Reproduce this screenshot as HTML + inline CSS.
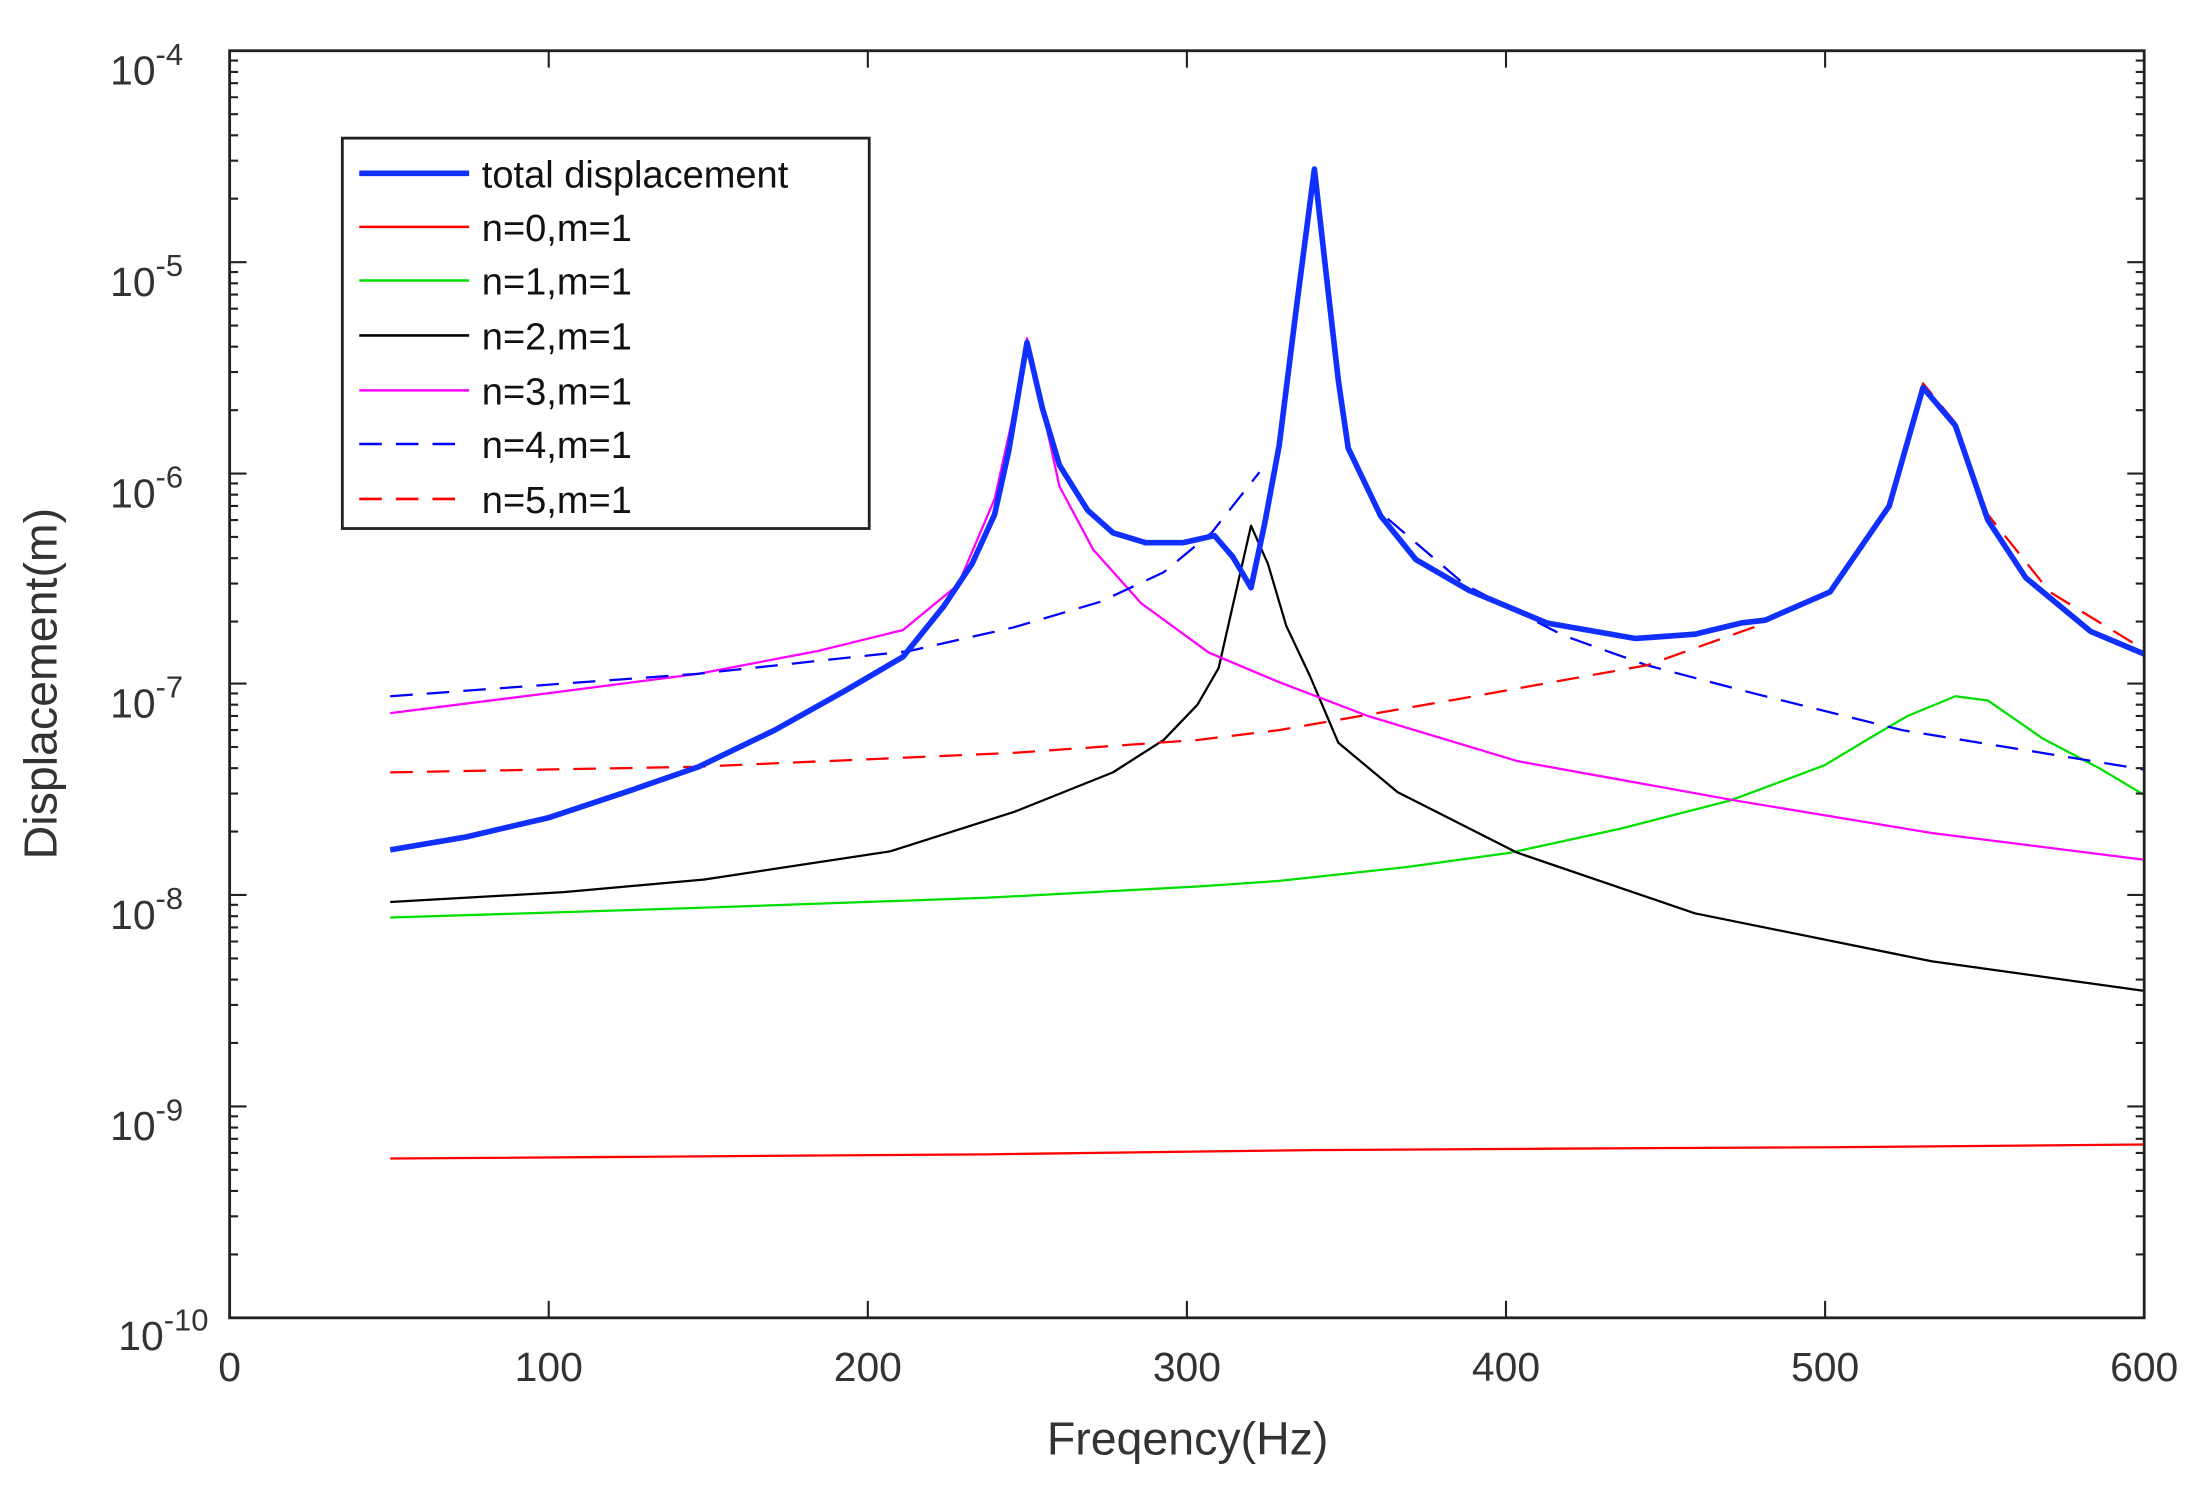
<!DOCTYPE html>
<html><head><style>body{margin:0;background:#fff}svg{display:block}</style></head><body>
<svg width="2209" height="1494" viewBox="0 0 1568 1060" preserveAspectRatio="none" xmlns="http://www.w3.org/2000/svg" font-family="Liberation Sans, sans-serif">
<rect width="1568" height="1060" fill="#fff"/>
<g fill="none" stroke-linejoin="round">
<polyline stroke="#ff0000" stroke-width="1.6" points="277,822 700,819 930,816 1100,815 1300,814 1522,812"/>
<polyline stroke="#00e000" stroke-width="1.6" points="277,651 500,644 700,637 850,629 908,625 1000,615 1072,605 1150,588 1228,568 1295,543 1330,522 1354,508 1388,494 1411,497 1450,524 1490,545 1522,564"/>
<polyline stroke="#000" stroke-width="1.6" points="277,640 400,633 500,624 632,604 720,576 790,548 826,525 850,500 865,474 875,430 888,373 900,400 913,444 930,480 950,527 992,562 1077,605 1203,648 1371,682 1522,703"/>
<polyline stroke="#ff00ff" stroke-width="1.6" points="277,506 380,493 496,478 580,462 641,447 680,415 706,354 718,300 729,240 740,290 752,345 776,390 810,428 858,463 908,484 971,508 1077,540 1232,568 1371,591 1522,610"/>
<polyline stroke="#0000ff" stroke-width="1.6" stroke-dasharray="16,10" points="277,494 496,478 645,462 720,445 781,427 826,406 860,378 894,335"/>
<polyline stroke="#0000ff" stroke-width="1.6" stroke-dasharray="16,10" points="985,368 1040,415 1110,451 1169,472 1245,492 1350,518 1522,546"/>
<polyline stroke="#ff0000" stroke-width="1.6" stroke-dasharray="16,10" points="277,548 496,544 722,534 850,525 908,518 1035,496 1169,472 1245,445 1299,420 1341,359 1365,272 1388,300 1411,365 1455,420 1522,461"/>
<polyline stroke="#1030ff" stroke-width="4" points="277,603 330,594 390,580 450,560 496,544 550,518 600,490 641,466 670,430 690,400 706,365 716,320 729,243 740,290 752,330 772,362 790,378 813,385 840,385 862,380 875,395 888,417 898,370 908,316 920,220 933,120 942,200 950,270 957,318 980,366 1005,397 1043,419 1098,442 1161,453 1203,450 1236,442 1253,440 1299,420 1341,359 1365,275 1388,302 1411,369 1438,410 1484,448 1522,464"/>
</g>
<rect x="163" y="36" width="1359" height="899" fill="none" stroke="#222" stroke-width="2"/>
<g stroke="#222" stroke-width="1.5">
<path d="M389.5,935v-12 M616,935v-12 M842.5,935v-12 M1069,935v-12 M1295.5,935v-12 M389.5,36v12 M616,36v12 M842.5,36v12 M1069,36v12 M1295.5,36v12
M163,186h12 M163,336h12 M163,485h12 M163,635h12 M163,785h12 M1522,186h-12 M1522,336h-12 M1522,485h-12 M1522,635h-12 M1522,785h-12"/>
<path id="minor" d="M163,141h6M163,114h6M163,96h6M163,81h6M163,69h6M163,59h6M163,51h6M163,43h6"/>
<use href="#minor" y="150"/><use href="#minor" y="300"/><use href="#minor" y="449"/><use href="#minor" y="599"/><use href="#minor" y="749"/>
<use href="#minor" transform="translate(1685,0) scale(-1,1)"/><use href="#minor" transform="translate(1685,150) scale(-1,1)"/><use href="#minor" transform="translate(1685,300) scale(-1,1)"/><use href="#minor" transform="translate(1685,449) scale(-1,1)"/><use href="#minor" transform="translate(1685,599) scale(-1,1)"/><use href="#minor" transform="translate(1685,749) scale(-1,1)"/>
</g>
<g font-size="29" fill="#333" text-anchor="end">
<text x="130" y="60">10<tspan dy="-14" font-size="22">-4</tspan></text>
<text x="130" y="210">10<tspan dy="-14" font-size="22">-5</tspan></text>
<text x="130" y="360">10<tspan dy="-14" font-size="22">-6</tspan></text>
<text x="130" y="509">10<tspan dy="-14" font-size="22">-7</tspan></text>
<text x="130" y="659">10<tspan dy="-14" font-size="22">-8</tspan></text>
<text x="130" y="809">10<tspan dy="-14" font-size="22">-9</tspan></text>
<text x="148" y="958">10<tspan dy="-14" font-size="22">-10</tspan></text>
</g>
<g font-size="29" fill="#333" text-anchor="middle">
<text x="163" y="980">0</text><text x="389.5" y="980">100</text><text x="616" y="980">200</text><text x="842.5" y="980">300</text><text x="1069" y="980">400</text><text x="1295.5" y="980">500</text><text x="1522" y="980">600</text>
<text x="843" y="1032" font-size="33">Freqency(Hz)</text>
<text transform="translate(40,485) rotate(-90)" font-size="33">Displacement(m)</text>
</g>
<rect x="243" y="98" width="374" height="277" fill="#fff" stroke="#222" stroke-width="2"/>
<g stroke-width="1.8" fill="none">
<line x1="255" y1="123" x2="333" y2="123" stroke="#1030ff" stroke-width="4"/>
<line x1="255" y1="161" x2="333" y2="161" stroke="#ff0000"/>
<line x1="255" y1="199" x2="333" y2="199" stroke="#00e000"/>
<line x1="255" y1="238" x2="333" y2="238" stroke="#000"/>
<line x1="255" y1="277" x2="333" y2="277" stroke="#ff00ff"/>
<line x1="255" y1="315" x2="333" y2="315" stroke="#0000ff" stroke-dasharray="16,10"/>
<line x1="255" y1="354" x2="333" y2="354" stroke="#ff0000" stroke-dasharray="16,10"/>
</g>
<g font-size="27" fill="#111">
<text x="342" y="133">total displacement</text>
<text x="342" y="171">n=0,m=1</text>
<text x="342" y="209">n=1,m=1</text>
<text x="342" y="248">n=2,m=1</text>
<text x="342" y="287">n=3,m=1</text>
<text x="342" y="325">n=4,m=1</text>
<text x="342" y="364">n=5,m=1</text>
</g>
</svg>
</body></html>
